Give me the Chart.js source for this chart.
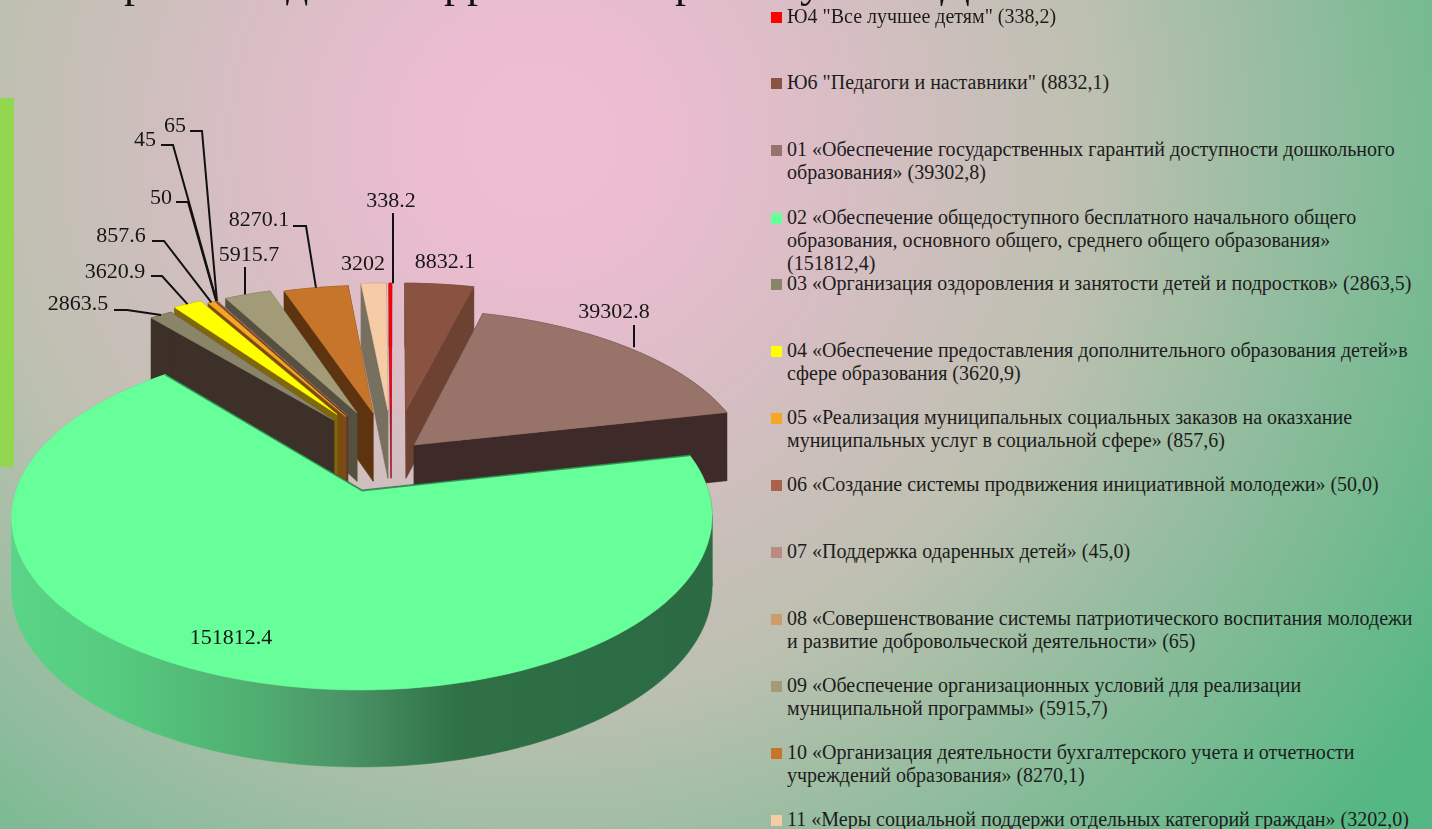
<!DOCTYPE html>
<html lang="ru">
<head>
<meta charset="utf-8">
<title>Диаграмма</title>
<script src="https://cdn.jsdelivr.net/npm/chart.js@4"></script>
<style>
  html, body { margin: 0; padding: 0; width: 1432px; height: 829px; overflow: hidden; }
  body {
    position: relative;
    font-family: "Liberation Serif", serif;
    background: radial-gradient(circle at 540px 140px, #eebcd3 0, #edbcd2 110px, #bcc0b0 560px, #55b783 1060px);
  }
  #bar { position: absolute; left: 0; top: 98px; width: 14px; height: 369px; background: #93d650; }
  #pie { position: absolute; left: 0; top: 0; }
  .frag { position: absolute; font-size: 44px; line-height: 44px; color: #111; white-space: pre; }
  .item { position: absolute; left: 787px; font-size: 20px; line-height: 23px; color: #1c1c1c; white-space: nowrap; }
  .item i { position: absolute; left: -16px; top: 7px; width: 11px; height: 11px; }
</style>
</head>
<body>
<div id="bar"></div>
<canvas id="pie" width="760" height="829"></canvas>
<div id="legend"></div>
<script>
const sliceValues = [338.2, 8832.1, 39302.8, 151812.4, 2863.5, 3620.9, 857.6, 50, 45, 65, 5915.7, 8270.1, 3202];

const legendLines = [
  ['Ю4 "Все лучшее детям" (338,2)'],
  ['Ю6 "Педагоги и наставники" (8832,1)'],
  ['01 «Обеспечение государственных гарантий доступности дошкольного', 'образования» (39302,8)'],
  ['02 «Обеспечение общедоступного бесплатного начального общего', 'образования, основного общего, среднего общего образования»', '(151812,4)'],
  ['03 «Организация оздоровления и занятости детей и подростков» (2863,5)'],
  ['04 «Обеспечение предоставления дополнительного образования детей»в', 'сфере образования (3620,9)'],
  ['05 «Реализация муниципальных социальных заказов на оказхание', 'муниципальных услуг в социальной сфере» (857,6)'],
  ['06 «Создание системы продвижения инициативной молодежи» (50,0)'],
  ['07 «Поддержка одаренных детей» (45,0)'],
  ['08 «Совершенствование системы патриотического воспитания молодежи', 'и развитие добровольческой деятельности»  (65)'],
  ['09 «Обеспечение организационных условий для реализации', 'муниципальной программы» (5915,7)'],
  ['10 «Организация деятельности бухгалтерского учета и отчетности', 'учреждений образования» (8270,1)'],
  ['11 «Меры социальной поддержи отдельных категорий граждан» (3202,0)']
];

const sliceColors = ['#ff0000', '#8a5240', '#97736a', '#66ff99', '#8a8468', '#ffff00', '#f5a623', '#a9624c', '#bb8b82', '#cb9c6c', '#a39b78', '#c6752a', '#f6cca6'];
const wallColors = ['#a0182c', '#6e4232', '#3e2b29', '#2f7047', '#3c3029', '#80680a', '#7a4c14', '#5c3a2a', '#5c3f3a', '#6a4c30', '#55503f', '#5e3410', '#78705f'];

// how far each slice is pulled out of the pie, in pie radii (right, away from viewer)
const sliceShift = [[0.05, 0.36], [0.097, 0.36], [0.118, 0.127], [-0.037, -0.155], [-0.127, 0.29], [-0.118, 0.33], [-0.09, 0.314], [-0.085, 0.32], [-0.085, 0.32], [-0.085, 0.32], [-0.056, 0.34], [-0.006, 0.34], [0.04, 0.36]];

// label centre, then leader start and its horizontal run (null = no leader)
const labelPos = [[391, 201], [445, 262], [614, 312], [231, 638], [78, 304], [115, 272], [121, 236], [161, 198], [145, 140], [175, 126], [249, 255], [259, 220], [363, 264]];
const leaderStart = [[393, 213, 0], null, [634, 325, 0], null, [114, 310, 13], [151, 276, 11], [152, 241, 12], [176, 202, 12], [161, 145, 12], [190, 131, 12], [245, 267, 0], [293, 226, 13], null];

const legendTops = [5, 71, 138, 206, 272, 339, 406, 473, 540, 607, 674, 741, 808];
const titleFragments = [['р', 124], ['д', 286], ['р', 444], ['р', 467], ['р', 675], ['у', 800], ['Д', 940]];

// simple camera: pie of radius 1 on the floor, seen from the front
const CX = 375, CY = 465, AX = 338, AY = 161, PERSP = 0.15, DEPTH = 70;
function project(x, y, down) {
  const s = 1 / (1 + PERSP * y);
  return [CX + AX * x * s, CY - AY * y * s + (down ? DEPTH * Math.sqrt(s) : 0)];
}

function fillPoly(ctx, pts, fill) {
  ctx.beginPath();
  pts.forEach((p, i) => i ? ctx.lineTo(p[0], p[1]) : ctx.moveTo(p[0], p[1]));
  ctx.closePath();
  ctx.fillStyle = fill;
  ctx.strokeStyle = fill;
  ctx.lineWidth = 0.6;
  ctx.fill();
  ctx.stroke();
}

function outline(arc, index) {
  const [sx, sy] = sliceShift[index];
  const a0 = arc.startAngle + Math.PI / 2;
  const a1 = arc.endAngle + Math.PI / 2;
  const steps = Math.max(1, Math.ceil((a1 - a0) / 0.02));
  const rim = [];
  for (let k = 0; k <= steps; k++) {
    const t = a0 + (a1 - a0) * k / steps;
    rim.push([sx + Math.sin(t), sy + Math.cos(t)]);
  }
  return { apex: [sx, sy], rim: rim };
}

// cut the outer edge where it turns back in x, a band over a turn fills wrong
function monotoneRuns(pts) {
  const runs = [];
  let run = [pts[0]], dir = 0;
  for (let k = 1; k < pts.length; k++) {
    const d = Math.sign(pts[k][0] - pts[k - 1][0]);
    if (dir && d && d !== dir) {
      runs.push(run);
      run = [pts[k - 1]];
    }
    if (d) dir = d;
    run.push(pts[k]);
  }
  runs.push(run);
  return runs;
}

const pie3d = {
  id: 'pie3d',
  beforeDatasetDraw(chart) {
    const ctx = chart.ctx;
    const arcs = chart.getDatasetMeta(0).data;
    const rimGrad = ctx.createLinearGradient(12, 0, 712, 0);
    rimGrad.addColorStop(0, '#5ad488');
    rimGrad.addColorStop(0.14, '#56cc80');
    rimGrad.addColorStop(0.36, '#4fac70');
    rimGrad.addColorStop(0.47, '#4b9567');
    rimGrad.addColorStop(0.64, '#2f7047');
    rimGrad.addColorStop(1, '#2b6a42');

    const order = arcs.map((a, i) => i).sort((p, q) => {
      const dist = i => {
        const m = (arcs[i].startAngle + arcs[i].endAngle) / 2 + Math.PI / 2;
        return Math.abs(Math.atan2(Math.sin(m), Math.cos(m)));
      };
      return dist(p) - dist(q);
    });

    order.forEach(i => {
      const o = outline(arcs[i], i);
      const wall = i === 3 ? rimGrad : wallColors[i];
      const first = o.rim[0], last = o.rim[o.rim.length - 1];
      [first, last].forEach(e => {
        fillPoly(ctx, [project(o.apex[0], o.apex[1]), project(e[0], e[1]), project(e[0], e[1], true), project(o.apex[0], o.apex[1], true)], wall);
      });
      monotoneRuns(o.rim.map(p => project(p[0], p[1]))).forEach(run => {
        const lower = run.map(p => [p[0], p[1] + wallDrop(p)]).reverse();
        fillPoly(ctx, run.concat(lower), wall);
      });
      fillPoly(ctx, [o.apex].concat(o.rim).map(p => project(p[0], p[1])), arcs[i].options.backgroundColor);
      if (i === 3) {
        // dark edge where the big slice sits on the walls behind it
        const tip = project(o.apex[0], o.apex[1]), a = project(first[0], first[1]), b = project(last[0], last[1]);
        ctx.beginPath();
        ctx.moveTo(a[0], a[1]);
        ctx.lineTo(tip[0], tip[1]);
        ctx.lineTo(b[0], b[1]);
        ctx.strokeStyle = 'rgba(20,70,40,0.55)';
        ctx.lineWidth = 2;
        ctx.stroke();
      }
    });

    // leaders and value labels
    ctx.save();
    ctx.font = '22px "Liberation Serif"';
    ctx.textAlign = 'center';
    ctx.textBaseline = 'middle';
    arcs.forEach((arc, i) => {
      ctx.fillStyle = '#161616';
      ctx.fillText(String(sliceValues[i]), labelPos[i][0], labelPos[i][1]);
      if (!leaderStart[i]) return;
      const m = (arc.startAngle + arc.endAngle) / 2 + Math.PI / 2;
      const end = project(sliceShift[i][0] + Math.sin(m), sliceShift[i][1] + Math.cos(m));
      const [x, y, run] = leaderStart[i];
      ctx.beginPath();
      ctx.moveTo(x, y);
      ctx.lineTo(x + run, y);
      ctx.lineTo(run ? end[0] : x, end[1]);
      ctx.strokeStyle = '#111';
      ctx.lineWidth = 2;
      ctx.stroke();
    });
    ctx.restore();
    return false;
  }
};

// wall height under a point already on screen, from its screen y
function wallDrop(p) {
  const v = (CY - p[1]) / AY;
  const y = v / (1 - PERSP * v);
  return DEPTH * Math.sqrt(1 / (1 + PERSP * y));
}

new Chart(document.getElementById('pie'), {
  type: 'pie',
  data: {
    labels: legendLines.map(l => l.join(' ')),
    datasets: [{ data: sliceValues, backgroundColor: sliceColors, borderWidth: 0 }]
  },
  options: {
    responsive: false,
    animation: false,
    plugins: { legend: { display: false }, tooltip: { enabled: false } }
  },
  plugins: [pie3d]
});

const legend = document.getElementById('legend');
legendLines.forEach((lines, i) => {
  const item = document.createElement('div');
  item.className = 'item';
  item.style.top = legendTops[i] + 'px';
  const box = document.createElement('i');
  box.style.background = sliceColors[i];
  item.appendChild(box);
  lines.forEach((line, k) => {
    if (k) item.appendChild(document.createElement('br'));
    item.appendChild(document.createTextNode(line));
  });
  legend.appendChild(item);
});

titleFragments.forEach(([text, left]) => {
  const frag = document.createElement('div');
  frag.className = 'frag';
  frag.textContent = text;
  frag.style.left = left + 'px';
  frag.style.top = '-39px';
  document.body.insertBefore(frag, legend);
});
</script>
</body>
</html>
